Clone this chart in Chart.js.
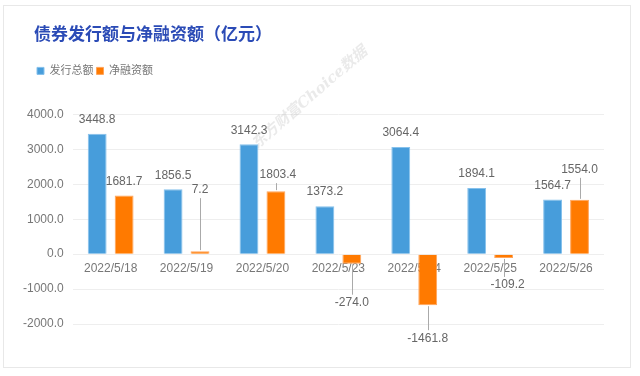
<!DOCTYPE html>
<html>
<head>
<meta charset="utf-8">
<script src="https://cdn.jsdelivr.net/npm/chart.js@4/dist/chart.umd.min.js"></script>
<style>
  html, body { margin: 0; padding: 0; background: #fff; }
  #wrap { width: 640px; height: 376px; }
</style>
</head>
<body>
<div id="wrap"><canvas id="grafico" width="640" height="376"></canvas></div>
<script>
// dados
var dias = ['2022/5/18', '2022/5/19', '2022/5/20', '2022/5/23', '2022/5/24', '2022/5/25', '2022/5/26'];
var emissaoTotal = [3448.8, 1856.5, 3142.3, 1373.2, 3064.4, 1894.1, 1564.7];
var financLiquido = [1681.7, 7.2, 1803.4, -274.0, -1461.8, -109.2, 1554.0];
var yMin = -2000, yMax = 4000, yPasso = 1000;

// deslocamento dos rótulos com linha de chamada (px), só da série laranja
var chamadaLaranja = [[0, 0], [0, -47], [2, -2], [0, 25], [0, 19], [4, 13], [0, -16]];

var corAzul = '#479ddb';
var corLaranja = '#ff7a00';
var fonte = "'Liberation Sans', 'Noto Sans CJK SC', sans-serif";

Chart.defaults.font.family = fonte;

// moldura do cartão
var pluginMoldura = {
  id: 'moldura',
  beforeDraw: function (chart) {
    var ctx = chart.ctx;
    ctx.save();
    ctx.strokeStyle = '#e8e8e8';
    ctx.lineWidth = 1;
    ctx.strokeRect(3.5, 5.5, 627, 362);
    ctx.restore();
  }
};

// marca d'água
var pluginMarca = {
  id: 'marca',
  beforeDatasetsDraw: function (chart) {
    var ctx = chart.ctx;
    ctx.save();
    ctx.translate(310, 98);
    ctx.rotate(-41 * Math.PI / 180);
    ctx.font = "bold italic 15px 'DejaVu Serif', 'Noto Sans CJK SC', serif";
    ctx.fillStyle = 'rgba(180,180,180,0.28)';
    ctx.textAlign = 'center';
    ctx.textBaseline = 'middle';
    ctx.fillText('东方财富Choice数据', 0, 0);
    ctx.restore();
  }
};

// mais espaço entre a legenda e o gráfico, e recuo do título/legenda
var pluginEspacoLegenda = {
  id: 'espacoLegenda',
  beforeInit: function (chart) {
    var fitOriginal = chart.legend.fit;
    chart.legend.fit = function () {
      fitOriginal.bind(chart.legend)();
      this.height += 28;
    };
  },
  afterLayout: function (chart) {
    chart.legend.left += 20;
    chart.legend.right += 20;
    chart.titleBlock.left += 20;
    chart.titleBlock.right += 20;
  }
};

// rótulos de valor (com linha de chamada quando deslocados)
var pluginRotulos = {
  id: 'rotulos',
  afterDatasetsDraw: function (chart) {
    var ctx = chart.ctx;
    ctx.save();
    ctx.font = '12px ' + fonte;
    ctx.textAlign = 'center';
    ctx.textBaseline = 'middle';
    chart.data.datasets.forEach(function (ds, i) {
      var meta = chart.getDatasetMeta(i);
      meta.data.forEach(function (bar, j) {
        var v = ds.data[j];
        var sinal = v < 0 ? 1 : -1;
        var desl = (i === 1) ? chamadaLaranja[j] : [0, 0];
        var lx = bar.x + desl[0];
        var ly = bar.y + sinal * 14 + desl[1];
        if (Math.abs(desl[1]) >= 2) {
          ctx.strokeStyle = '#aaaaaa';
          ctx.lineWidth = 1;
          ctx.beginPath();
          var xl = Math.round(bar.x) + 0.5;
          ctx.moveTo(xl, ly - sinal * 8);
          ctx.lineTo(xl, bar.y + sinal * 1);
          ctx.stroke();
        }
        ctx.fillStyle = '#666666';
        ctx.fillText(v.toFixed(1), lx, ly);
      });
    });
    ctx.restore();
  }
};

var ctxGrafico = document.getElementById('grafico').getContext('2d');

var dadosGrafico = {
  labels: dias,
  datasets: [{
    label: '发行总额',
    data: emissaoTotal,
    backgroundColor: corAzul,
    borderColor: '#86c1ec',
    borderWidth: 1,
    categoryPercentage: 0.71,
    barPercentage: 0.7
  }, {
    label: '净融资额',
    data: financLiquido,
    backgroundColor: corLaranja,
    borderColor: '#ffa45a',
    borderWidth: 1,
    categoryPercentage: 0.71,
    barPercentage: 0.7,
    minBarLength: 3
  }]
};

var opcoesGrafico = {
  responsive: false,
  animation: false,
  layout: {
    padding: { top: 5, left: 14, right: 36, bottom: 52 }
  },
  scales: {
    y: {
      min: yMin,
      max: yMax,
      ticks: {
        stepSize: yPasso,
        padding: 9,
        color: '#777777',
        font: { size: 12 },
        callback: function (v) { return Number(v).toFixed(1); }
      },
      grid: {
        color: '#eeeeee',
        drawTicks: false
      },
      border: { display: false }
    },
    x: {
      position: { y: 0 },
      grid: { display: false, drawTicks: false },
      border: { display: false },
      ticks: {
        padding: 7,
        color: '#777777',
        font: { size: 12 },
        maxRotation: 0,
        autoSkip: false
      }
    }
  },
  plugins: {
    title: {
      display: true,
      text: '债券发行额与净融资额（亿元）',
      align: 'start',
      color: '#2b4bb6',
      font: { size: 17, weight: 'bold' },
      padding: { top: 20, bottom: 17 }
    },
    legend: {
      display: true,
      position: 'top',
      align: 'start',
      labels: {
        boxWidth: 7,
        boxHeight: 7,
        padding: 3,
        color: '#777777',
        font: { size: 11 }
      }
    },
    tooltip: { enabled: false }
  }
};

var graficoEmissao = new Chart(ctxGrafico, {
  type: 'bar',
  data: dadosGrafico,
  options: opcoesGrafico,
  plugins: [pluginMoldura, pluginMarca, pluginEspacoLegenda, pluginRotulos]
});
</script>
</body>
</html>
